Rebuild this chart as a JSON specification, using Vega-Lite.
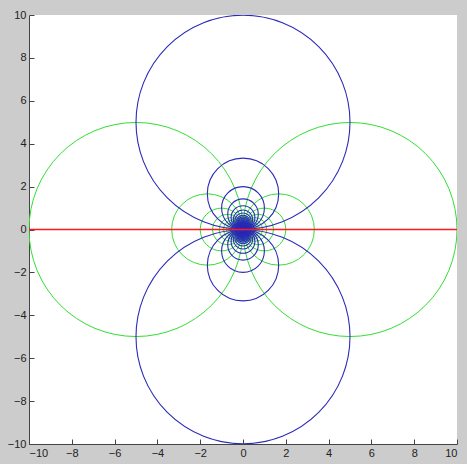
{
  "$schema": "https://vega.github.io/schema/vega-lite/v6.json",
  "autosize": "none",
  "padding": {"left": 29, "top": 15, "right": 10, "bottom": 20},
  "width": 428,
  "height": 429,
  "background": "#cccccc",
  "config": {
    "view": {"fill": "white", "stroke": null},
    "axis": {
      "grid": false,
      "domainColor": "#444444",
      "tickColor": "#444444",
      "tickSize": -5,
      "labelFont": "Liberation Sans",
      "labelFontSize": 11,
      "labelColor": "#222222",
      "labelPadding": 8,
      "labelOverlap": false,
      "title": null
    }
  },
  "datasets": {
    "green": [
      {"x":5,"y":0,"r":5},{"x":-5,"y":0,"r":5},{"x":1.6667,"y":0,"r":1.6667},{"x":-1.6667,"y":0,"r":1.6667},
      {"x":1,"y":0,"r":1},{"x":-1,"y":0,"r":1},{"x":0.7143,"y":0,"r":0.7143},{"x":-0.7143,"y":0,"r":0.7143},
      {"x":0.5556,"y":0,"r":0.5556},{"x":-0.5556,"y":0,"r":0.5556},{"x":0.4545,"y":0,"r":0.4545},{"x":-0.4545,"y":0,"r":0.4545},
      {"x":0.3846,"y":0,"r":0.3846},{"x":-0.3846,"y":0,"r":0.3846},{"x":0.3333,"y":0,"r":0.3333},{"x":-0.3333,"y":0,"r":0.3333},
      {"x":0.2941,"y":0,"r":0.2941},{"x":-0.2941,"y":0,"r":0.2941},{"x":0.2632,"y":0,"r":0.2632},{"x":-0.2632,"y":0,"r":0.2632},
      {"x":0.2381,"y":0,"r":0.2381},{"x":-0.2381,"y":0,"r":0.2381},{"x":0.2174,"y":0,"r":0.2174},{"x":-0.2174,"y":0,"r":0.2174},
      {"x":0.2,"y":0,"r":0.2},{"x":-0.2,"y":0,"r":0.2},{"x":0.1852,"y":0,"r":0.1852},{"x":-0.1852,"y":0,"r":0.1852},
      {"x":0.1724,"y":0,"r":0.1724},{"x":-0.1724,"y":0,"r":0.1724},{"x":0.1613,"y":0,"r":0.1613},{"x":-0.1613,"y":0,"r":0.1613},
      {"x":0.1515,"y":0,"r":0.1515},{"x":-0.1515,"y":0,"r":0.1515},{"x":0.1429,"y":0,"r":0.1429},{"x":-0.1429,"y":0,"r":0.1429},
      {"x":0.1351,"y":0,"r":0.1351},{"x":-0.1351,"y":0,"r":0.1351},{"x":0.1282,"y":0,"r":0.1282},{"x":-0.1282,"y":0,"r":0.1282},
      {"x":0.122,"y":0,"r":0.122},{"x":-0.122,"y":0,"r":0.122},{"x":0.1163,"y":0,"r":0.1163},{"x":-0.1163,"y":0,"r":0.1163},
      {"x":0.1111,"y":0,"r":0.1111},{"x":-0.1111,"y":0,"r":0.1111},{"x":0.1064,"y":0,"r":0.1064},{"x":-0.1064,"y":0,"r":0.1064},
      {"x":0.102,"y":0,"r":0.102},{"x":-0.102,"y":0,"r":0.102},{"x":0.098,"y":0,"r":0.098},{"x":-0.098,"y":0,"r":0.098},
      {"x":0.0943,"y":0,"r":0.0943},{"x":-0.0943,"y":0,"r":0.0943},{"x":0.0909,"y":0,"r":0.0909},{"x":-0.0909,"y":0,"r":0.0909},
      {"x":0.0877,"y":0,"r":0.0877},{"x":-0.0877,"y":0,"r":0.0877},{"x":0.0847,"y":0,"r":0.0847},{"x":-0.0847,"y":0,"r":0.0847},
      {"x":0.082,"y":0,"r":0.082},{"x":-0.082,"y":0,"r":0.082},{"x":0.0794,"y":0,"r":0.0794},{"x":-0.0794,"y":0,"r":0.0794},
      {"x":0.0769,"y":0,"r":0.0769},{"x":-0.0769,"y":0,"r":0.0769},{"x":0.0746,"y":0,"r":0.0746},{"x":-0.0746,"y":0,"r":0.0746},
      {"x":0.0725,"y":0,"r":0.0725},{"x":-0.0725,"y":0,"r":0.0725},{"x":0.0704,"y":0,"r":0.0704},{"x":-0.0704,"y":0,"r":0.0704},
      {"x":0.0685,"y":0,"r":0.0685},{"x":-0.0685,"y":0,"r":0.0685},{"x":0.0667,"y":0,"r":0.0667},{"x":-0.0667,"y":0,"r":0.0667},
      {"x":0.0649,"y":0,"r":0.0649},{"x":-0.0649,"y":0,"r":0.0649},{"x":0.0633,"y":0,"r":0.0633},{"x":-0.0633,"y":0,"r":0.0633},
      {"x":0.0617,"y":0,"r":0.0617},{"x":-0.0617,"y":0,"r":0.0617},{"x":0.0602,"y":0,"r":0.0602},{"x":-0.0602,"y":0,"r":0.0602},
      {"x":0.0588,"y":0,"r":0.0588},{"x":-0.0588,"y":0,"r":0.0588},{"x":0.0575,"y":0,"r":0.0575},{"x":-0.0575,"y":0,"r":0.0575},
      {"x":0.0562,"y":0,"r":0.0562},{"x":-0.0562,"y":0,"r":0.0562},{"x":0.0549,"y":0,"r":0.0549},{"x":-0.0549,"y":0,"r":0.0549},
      {"x":0.0538,"y":0,"r":0.0538},{"x":-0.0538,"y":0,"r":0.0538},{"x":0.0526,"y":0,"r":0.0526},{"x":-0.0526,"y":0,"r":0.0526},
      {"x":0.0515,"y":0,"r":0.0515},{"x":-0.0515,"y":0,"r":0.0515},{"x":0.0505,"y":0,"r":0.0505},{"x":-0.0505,"y":0,"r":0.0505},
      {"x":0.0495,"y":0,"r":0.0495},{"x":-0.0495,"y":0,"r":0.0495},{"x":0.0485,"y":0,"r":0.0485},{"x":-0.0485,"y":0,"r":0.0485},
      {"x":0.0476,"y":0,"r":0.0476},{"x":-0.0476,"y":0,"r":0.0476},{"x":0.0467,"y":0,"r":0.0467},{"x":-0.0467,"y":0,"r":0.0467},
      {"x":0.0459,"y":0,"r":0.0459},{"x":-0.0459,"y":0,"r":0.0459},{"x":0.045,"y":0,"r":0.045},{"x":-0.045,"y":0,"r":0.045},
      {"x":0.0442,"y":0,"r":0.0442},{"x":-0.0442,"y":0,"r":0.0442},{"x":0.0435,"y":0,"r":0.0435},{"x":-0.0435,"y":0,"r":0.0435},
      {"x":0.0427,"y":0,"r":0.0427},{"x":-0.0427,"y":0,"r":0.0427},{"x":0.042,"y":0,"r":0.042},{"x":-0.042,"y":0,"r":0.042},
      {"x":0.0413,"y":0,"r":0.0413},{"x":-0.0413,"y":0,"r":0.0413}
    ],
    "blue": [
      {"x":0,"y":5,"r":5},{"x":0,"y":-5,"r":5},{"x":0,"y":1.6667,"r":1.6667},{"x":0,"y":-1.6667,"r":1.6667},
      {"x":0,"y":1,"r":1},{"x":0,"y":-1,"r":1},{"x":0,"y":0.7143,"r":0.7143},{"x":0,"y":-0.7143,"r":0.7143},
      {"x":0,"y":0.5556,"r":0.5556},{"x":0,"y":-0.5556,"r":0.5556},{"x":0,"y":0.4545,"r":0.4545},{"x":0,"y":-0.4545,"r":0.4545},
      {"x":0,"y":0.3846,"r":0.3846},{"x":0,"y":-0.3846,"r":0.3846},{"x":0,"y":0.3333,"r":0.3333},{"x":0,"y":-0.3333,"r":0.3333},
      {"x":0,"y":0.2941,"r":0.2941},{"x":0,"y":-0.2941,"r":0.2941},{"x":0,"y":0.2632,"r":0.2632},{"x":0,"y":-0.2632,"r":0.2632},
      {"x":0,"y":0.2381,"r":0.2381},{"x":0,"y":-0.2381,"r":0.2381},{"x":0,"y":0.2174,"r":0.2174},{"x":0,"y":-0.2174,"r":0.2174},
      {"x":0,"y":0.2,"r":0.2},{"x":0,"y":-0.2,"r":0.2},{"x":0,"y":0.1852,"r":0.1852},{"x":0,"y":-0.1852,"r":0.1852},
      {"x":0,"y":0.1724,"r":0.1724},{"x":0,"y":-0.1724,"r":0.1724},{"x":0,"y":0.1613,"r":0.1613},{"x":0,"y":-0.1613,"r":0.1613},
      {"x":0,"y":0.1515,"r":0.1515},{"x":0,"y":-0.1515,"r":0.1515},{"x":0,"y":0.1429,"r":0.1429},{"x":0,"y":-0.1429,"r":0.1429},
      {"x":0,"y":0.1351,"r":0.1351},{"x":0,"y":-0.1351,"r":0.1351},{"x":0,"y":0.1282,"r":0.1282},{"x":0,"y":-0.1282,"r":0.1282},
      {"x":0,"y":0.122,"r":0.122},{"x":0,"y":-0.122,"r":0.122},{"x":0,"y":0.1163,"r":0.1163},{"x":0,"y":-0.1163,"r":0.1163},
      {"x":0,"y":0.1111,"r":0.1111},{"x":0,"y":-0.1111,"r":0.1111},{"x":0,"y":0.1064,"r":0.1064},{"x":0,"y":-0.1064,"r":0.1064},
      {"x":0,"y":0.102,"r":0.102},{"x":0,"y":-0.102,"r":0.102},{"x":0,"y":0.098,"r":0.098},{"x":0,"y":-0.098,"r":0.098},
      {"x":0,"y":0.0943,"r":0.0943},{"x":0,"y":-0.0943,"r":0.0943},{"x":0,"y":0.0909,"r":0.0909},{"x":0,"y":-0.0909,"r":0.0909},
      {"x":0,"y":0.0877,"r":0.0877},{"x":0,"y":-0.0877,"r":0.0877},{"x":0,"y":0.0847,"r":0.0847},{"x":0,"y":-0.0847,"r":0.0847},
      {"x":0,"y":0.082,"r":0.082},{"x":0,"y":-0.082,"r":0.082},{"x":0,"y":0.0794,"r":0.0794},{"x":0,"y":-0.0794,"r":0.0794},
      {"x":0,"y":0.0769,"r":0.0769},{"x":0,"y":-0.0769,"r":0.0769},{"x":0,"y":0.0746,"r":0.0746},{"x":0,"y":-0.0746,"r":0.0746},
      {"x":0,"y":0.0725,"r":0.0725},{"x":0,"y":-0.0725,"r":0.0725},{"x":0,"y":0.0704,"r":0.0704},{"x":0,"y":-0.0704,"r":0.0704},
      {"x":0,"y":0.0685,"r":0.0685},{"x":0,"y":-0.0685,"r":0.0685},{"x":0,"y":0.0667,"r":0.0667},{"x":0,"y":-0.0667,"r":0.0667},
      {"x":0,"y":0.0649,"r":0.0649},{"x":0,"y":-0.0649,"r":0.0649},{"x":0,"y":0.0633,"r":0.0633},{"x":0,"y":-0.0633,"r":0.0633},
      {"x":0,"y":0.0617,"r":0.0617},{"x":0,"y":-0.0617,"r":0.0617},{"x":0,"y":0.0602,"r":0.0602},{"x":0,"y":-0.0602,"r":0.0602},
      {"x":0,"y":0.0588,"r":0.0588},{"x":0,"y":-0.0588,"r":0.0588},{"x":0,"y":0.0575,"r":0.0575},{"x":0,"y":-0.0575,"r":0.0575},
      {"x":0,"y":0.0562,"r":0.0562},{"x":0,"y":-0.0562,"r":0.0562},{"x":0,"y":0.0549,"r":0.0549},{"x":0,"y":-0.0549,"r":0.0549},
      {"x":0,"y":0.0538,"r":0.0538},{"x":0,"y":-0.0538,"r":0.0538},{"x":0,"y":0.0526,"r":0.0526},{"x":0,"y":-0.0526,"r":0.0526},
      {"x":0,"y":0.0515,"r":0.0515},{"x":0,"y":-0.0515,"r":0.0515},{"x":0,"y":0.0505,"r":0.0505},{"x":0,"y":-0.0505,"r":0.0505},
      {"x":0,"y":0.0495,"r":0.0495},{"x":0,"y":-0.0495,"r":0.0495},{"x":0,"y":0.0485,"r":0.0485},{"x":0,"y":-0.0485,"r":0.0485},
      {"x":0,"y":0.0476,"r":0.0476},{"x":0,"y":-0.0476,"r":0.0476},{"x":0,"y":0.0467,"r":0.0467},{"x":0,"y":-0.0467,"r":0.0467},
      {"x":0,"y":0.0459,"r":0.0459},{"x":0,"y":-0.0459,"r":0.0459},{"x":0,"y":0.045,"r":0.045},{"x":0,"y":-0.045,"r":0.045},
      {"x":0,"y":0.0442,"r":0.0442},{"x":0,"y":-0.0442,"r":0.0442},{"x":0,"y":0.0435,"r":0.0435},{"x":0,"y":-0.0435,"r":0.0435},
      {"x":0,"y":0.0427,"r":0.0427},{"x":0,"y":-0.0427,"r":0.0427},{"x":0,"y":0.042,"r":0.042},{"x":0,"y":-0.042,"r":0.042},
      {"x":0,"y":0.0413,"r":0.0413},{"x":0,"y":-0.0413,"r":0.0413}
    ],
    "redline": [{"level": 0}]
  },
  "layer": [
    {
      "data": {"name": "green"},
      "mark": {"type": "point", "shape": "circle", "filled": false, "stroke": "#33dd33", "strokeWidth": 1, "opacity": 1, "clip": true},
      "encoding": {
        "x": {"field": "x", "type": "quantitative", "scale": {"domain": [-10, 10], "nice": false, "zero": false},
              "axis": {"values": [-10, -8, -6, -4, -2, 0, 2, 4, 6, 8, 10]}},
        "y": {"field": "y", "type": "quantitative", "scale": {"domain": [-10, 10], "nice": false, "zero": false},
              "axis": {"values": [-10, -8, -6, -4, -2, 0, 2, 4, 6, 8, 10]}},
        "size": {"field": "r", "type": "quantitative", "scale": {"type": "pow", "exponent": 2, "domain": [0, 10], "range": [0, 183184]}, "legend": null}
      }
    },
    {
      "data": {"name": "blue"},
      "mark": {"type": "point", "shape": "circle", "filled": false, "stroke": "#2a2ab8", "strokeWidth": 1.1, "opacity": 1, "clip": true},
      "encoding": {
        "x": {"field": "x", "type": "quantitative"},
        "y": {"field": "y", "type": "quantitative"},
        "size": {"field": "r", "type": "quantitative", "legend": null}
      }
    },
    {
      "data": {"name": "redline"},
      "mark": {"type": "rule", "stroke": "#ff1a1a", "strokeWidth": 1.5, "opacity": 1},
      "encoding": {
        "y": {"field": "level", "type": "quantitative"}
      }
    }
  ]
}
